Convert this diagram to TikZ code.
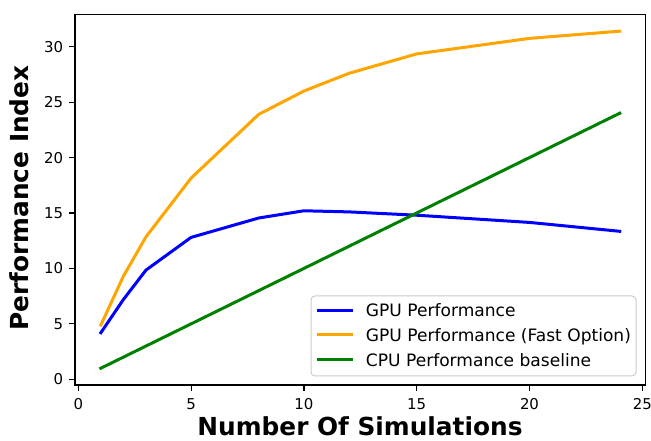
\documentclass[tikz,border=0pt]{standalone}
\usepackage{fontspec}
\setmainfont{DejaVu Sans}
\definecolor{mplblue}{RGB}{0,0,255}
\definecolor{mplorange}{RGB}{255,165,0}
\definecolor{mplgreen}{RGB}{0,128,0}
\definecolor{legframe}{RGB}{204,204,204}
\begin{document}
\begin{tikzpicture}[x=0.75pt,y=0.75pt,
  spine/.style={line width=0.9pt, line join=miter},
  tickmark/.style={line width=0.9pt},
  ticklab/.style={inner sep=0pt, font=\fontsize{11.2}{13}\selectfont},
  axlabel/.style={inner sep=0pt, font=\fontsize{18.6}{22}\selectfont\bfseries},
  dataline/.style={line width=2.25pt, line join=round, line cap=rect},
  legtext/.style={inner sep=0pt, anchor=base west, font=\fontsize{12.8}{15}\selectfont},
  legbox/.style={draw=legframe, fill=white, fill opacity=0.8, line width=0.75pt, rounded corners=3pt}
]
\useasboundingbox (0,0) rectangle (651,440);
% axis labels
\node[axlabel, anchor=base] (xlab) at (360,5) {Number Of Simulations};
\node[axlabel, anchor=base, rotate=90] (ylab) at (28,242) {Performance Index};
% data scope
\begin{scope}[shift={(78.3,60.7)}, x=16.92pt, y=8.315pt]
  \coordinate (ll) at (-0.15,-0.52);
  \coordinate (ur) at (25.15,32.92);
  % ticks and tick labels
  \foreach \t in {0,5,10,15,20,25}{
    \coordinate (xt\t) at (\t,-0.52);
    \draw[tickmark] (xt\t) -- ++(0pt,-4.5pt);
    \node[ticklab, anchor=north, yshift=-10pt] (xl\t) at (xt\t) {\t};
  }
  \foreach \t in {0,5,10,15,20,25,30}{
    \coordinate (yt\t) at (-0.15,\t);
    \draw[tickmark] (yt\t) -- ++(-4.5pt,0pt);
    \node[ticklab, anchor=east, xshift=-8.6pt] (yl\t) at (yt\t) {\t};
  }
  % data
  \draw[dataline, mplblue] plot coordinates {(1,4.2) (2,7.2) (3,9.85) (5,12.8) (8,14.55) (10,15.2) (12,15.1) (15,14.8) (20,14.15) (24,13.35)};
  \draw[dataline, mplorange] plot coordinates {(1,4.9) (2,9.3) (3,12.85) (5,18.15) (8,23.9) (10,26.0) (12,27.6) (15,29.35) (20,30.75) (24,31.4)};
  \draw[dataline, mplgreen] plot coordinates {(1,1) (2,2) (3,3) (5,5) (8,8) (10,10) (12,12) (15,15) (20,20) (24,24)};
  % frame
  \draw[spine] (ll) rectangle (ur);
\end{scope}
% legend
\draw[legbox] (311,64) rectangle (636,144);
\foreach \r/\c/\n/\txt in {129.3/mplblue/a/{GPU Performance}, 105/mplorange/b/{GPU Performance (Fast Option)}, 80/mplgreen/c/{CPU Performance baseline}}{
  \coordinate (ls\n) at (316.7,\r);
  \coordinate (le\n) at (353.3,\r);
  \draw[line width=2.25pt, \c] (ls\n) -- (le\n);
  \node[legtext] (lt\n) at (365.7,\r-6.3) {\txt};
}
\end{tikzpicture}
\end{document}
